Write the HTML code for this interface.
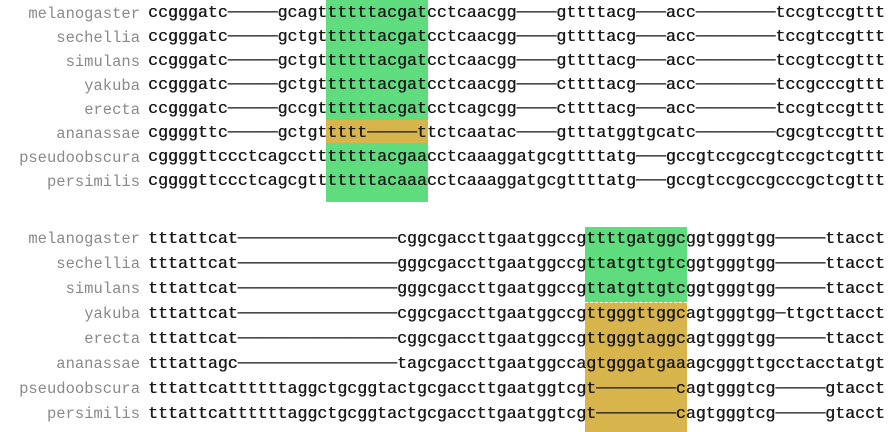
<!DOCTYPE html>
<html><head><meta charset="utf-8"><style>
html,body{margin:0;padding:0;background:#fff;width:893px;height:432px;overflow:hidden;position:relative}
.hl{position:absolute}
.row{position:absolute;left:0;white-space:pre}
.name{position:absolute;right:753px;top:1px;font-family:"Liberation Mono","DejaVu Sans Mono",monospace;font-size:15.5px;color:#8a8a8a;text-align:right}
.seq{position:absolute;left:148px;top:0;font-family:"Liberation Mono","DejaVu Sans Mono",monospace;font-size:16.6px;color:#1a1a1a;text-shadow:0.4px 0 #1a1a1a}
</style></head><body>
<div id="root"></div>
<script>
var names=["melanogaster","sechellia","simulans","yakuba","erecta","ananassae","pseudoobscura","persimilis"];
var block1=[
"ccgggatc-----gcagttttttacgatcctcaacgg----gttttacg---acc--------tccgtccgttt",
"ccgggatc-----gctgttttttacgatcctcaacgg----gttttacg---acc--------tccgtccgttt",
"ccgggatc-----gctgttttttacgatcctcaacgg----gttttacg---acc--------tccgtccgttt",
"ccgggatc-----gctgttttttacgatcctcaacgg----cttttacg---acc--------tccgcccgttt",
"ccgggatc-----gccgttttttacgatcctcagcgg----cttttacg---acc--------tccgtccgttt",
"cggggttc-----gctgttttt-----ttctcaatac----gtttatggtgcatc--------cgcgtccgttt",
"cggggttccctcagcctttttttacgaacctcaaaggatgcgttttatg---gccgtccgccgtccgctcgttt",
"cggggttccctcagcgtttttttacaaacctcaaaggatgcgttttatg---gccgtccgccgcccgctcgttt"];
var block2=[
"tttattcat----------------cggcgaccttgaatggccgttttgatggcggtgggtgg-----ttacct",
"tttattcat----------------gggcgaccttgaatggccgttatgttgtcggtgggtgg-----ttacct",
"tttattcat----------------gggcgaccttgaatggccgttatgttgtcggtgggtgg-----ttacct",
"tttattcat----------------cggcgaccttgaatggccgttgggttggcagtgggtgg-ttgcttacct",
"tttattcat----------------cggcgaccttgaatggccgttgggtaggcagtgggtgg-----ttacct",
"tttattagc----------------tagcgaccttgaatggccagtgggatgaaagcgggttgcctacctatgt",
"tttattcattttttaggctgcggtactgcgaccttgaatggtcgt--------cagtgggtcg-----gtacct",
"tttattcattttttaggctgcggtactgcgaccttgaatggtcgt--------cagtgggtcg-----gtacct"];
var root=document.getElementById('root');
var CW=9.96,X0=148;
function box(c0,c1,y0,y1,color,name,dash){
  var d=document.createElement('div');d.className='hl';
  
  
  d.style.left=(X0+c0*CW-1)+'px';d.style.width=((c1-c0)*CW+2)+'px';
  d.style.top=y0+'px';d.style.height=(y1-y0)+'px';d.style.background=color;
  if(dash)d.style.borderTop='1.5px dashed #fff';
  root.appendChild(d);
}
box(18,28,0,202,'#5fdc7e','green-highlight-block1');
box(18,28,120,143,'#d8b44c','orange-highlight-ananassae');
box(44,54,227,302,'#5fdc7e','green-highlight-block2');
box(44,54,302,432,'#d8b44c','orange-highlight-block2',true);
function drawBlock(seqs,top,lh,tag){
  for(var i=0;i<seqs.length;i++){
    var r=document.createElement('div');r.className='row';
    
    
    r.style.top=(top+i*lh)+'px';r.style.width='893px';r.style.height=lh+'px';r.style.lineHeight=lh+'px';
    var n=document.createElement('span');n.className='name';n.textContent=names[i];
    
    
    var s=document.createElement('span');s.className='seq';s.textContent=seqs[i].replace(/-/g,'\u2500');
    
    
    r.appendChild(n);r.appendChild(s);root.appendChild(r);
  }
}
drawBlock(block1,1,24,'block1');
drawBlock(block2,226,25,'block2');
</script>
</body></html>
